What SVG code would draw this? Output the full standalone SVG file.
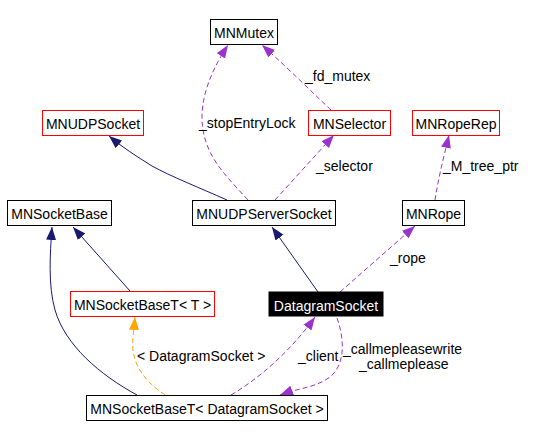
<svg xmlns="http://www.w3.org/2000/svg" width="538" height="438" viewBox="0 0 538 438">
<style>
text{font-family:"Liberation Sans",Arial,sans-serif;font-size:14px;fill:#000}
.n rect{fill:#fff;stroke:#000;stroke-width:1}
.n.red rect{stroke:#ff0000}
.n.cur rect{fill:#000;stroke:#000}
.n.cur text{fill:#fff}
.n text{text-anchor:middle}
.inh{fill:none;stroke:#191970;stroke-width:1}
.use{fill:none;stroke:#9a32cd;stroke-width:1;stroke-dasharray:5,3}
.tpl{fill:none;stroke:#ffa500;stroke-width:1;stroke-dasharray:5,3}
</style>
<defs>
<marker id="aNavy" markerUnits="userSpaceOnUse" markerWidth="15" markerHeight="12" refX="13" refY="5" orient="auto"><path d="M0,0 L13,5 L0,10 Z" fill="#191970"/></marker>
<marker id="aPurple" markerUnits="userSpaceOnUse" markerWidth="15" markerHeight="12" refX="13" refY="5" orient="auto"><path d="M0,0 L13,5 L0,10 Z" fill="#9a32cd"/></marker>
<marker id="aOrange" markerUnits="userSpaceOnUse" markerWidth="15" markerHeight="12" refX="13" refY="5" orient="auto"><path d="M0,0 L13,5 L0,10 Z" fill="#ffa500"/></marker>
</defs>
<rect width="538" height="438" fill="#fff"/>
<g id="connectors">
<path class="inh" d="M227,200 C200,188 170,176 152,166 C136,156 122,147 109,136" marker-end="url(#aNavy)"/>
<path class="use" d="M248,200 C225,175 210,160 204,135 C198,110 205,80 228,45" marker-end="url(#aPurple)"/>
<path class="use" d="M331,110 C315,95 290,70 262,45" marker-end="url(#aPurple)"/>
<path class="use" d="M275,200 L334,135" marker-end="url(#aPurple)"/>
<path class="use" d="M435,200 C438,180 443,160 449,135" marker-end="url(#aPurple)"/>
<path class="inh" d="M318,292 L272,227" marker-end="url(#aNavy)"/>
<path class="use" d="M340,292 L415,226" marker-end="url(#aPurple)"/>
<path class="inh" d="M130,291 L73,227" marker-end="url(#aNavy)"/>
<path class="inh" d="M137,395 C100,375 65,345 55,310 C48,285 50,255 52,227" marker-end="url(#aNavy)"/>
<path class="tpl" d="M165,395 C150,385 135,370 133,350 C132,340 134,330 135,317" marker-end="url(#aOrange)"/>
<path class="use" d="M231,395 C265,375 295,345 315,317" marker-end="url(#aPurple)"/>
<path class="use" d="M337,318 C345,340 345,365 330,377 C315,388 298,388 280,395" marker-end="url(#aPurple)"/>
<text x="199" y="128">_stopEntryLock</text>
<text x="305" y="81">_fd_mutex</text>
<text x="316" y="171">_selector</text>
<text x="443" y="171">_M_tree_ptr</text>
<text x="390" y="263">_rope</text>
<text x="137" y="361">&lt; DatagramSocket &gt;</text>
<text x="298" y="361">_client</text>
<text x="343" y="354">_callmepleasewrite</text>
<text x="359" y="369">_callmeplease</text>
</g>
<g id="MNMutex" class="n"><rect x="210.5" y="19.5" width="67" height="25"/><text x="244" y="38">MNMutex</text></g>
<g id="MNUDPSocket" class="n red"><rect x="42.5" y="110.5" width="101" height="25"/><text x="93" y="129">MNUDPSocket</text></g>
<g id="MNSelector" class="n red"><rect x="308.5" y="110.5" width="82" height="25"/><text x="349.5" y="129">MNSelector</text></g>
<g id="MNRopeRep" class="n red"><rect x="412.5" y="110.5" width="87" height="25"/><text x="456" y="129">MNRopeRep</text></g>
<g id="MNSocketBase" class="n"><rect x="7.5" y="200.5" width="104" height="25"/><text x="59.5" y="219">MNSocketBase</text></g>
<g id="MNUDPServerSocket" class="n"><rect x="192.5" y="200.5" width="143" height="25"/><text x="264" y="219">MNUDPServerSocket</text></g>
<g id="MNRope" class="n"><rect x="402.5" y="200.5" width="62" height="25"/><text x="433.5" y="219">MNRope</text></g>
<g id="MNSocketBaseT_T" class="n red"><rect x="70.5" y="291.5" width="144" height="25"/><text x="142.5" y="310">MNSocketBaseT&lt; T &gt;</text></g>
<g id="DatagramSocket" class="n cur"><rect x="269" y="292" width="114" height="24"/><text x="326" y="311">DatagramSocket</text></g>
<g id="MNSocketBaseT_DatagramSocket" class="n"><rect x="86.5" y="395.5" width="241" height="25"/><text x="207" y="414">MNSocketBaseT&lt; DatagramSocket &gt;</text></g>
</svg>
